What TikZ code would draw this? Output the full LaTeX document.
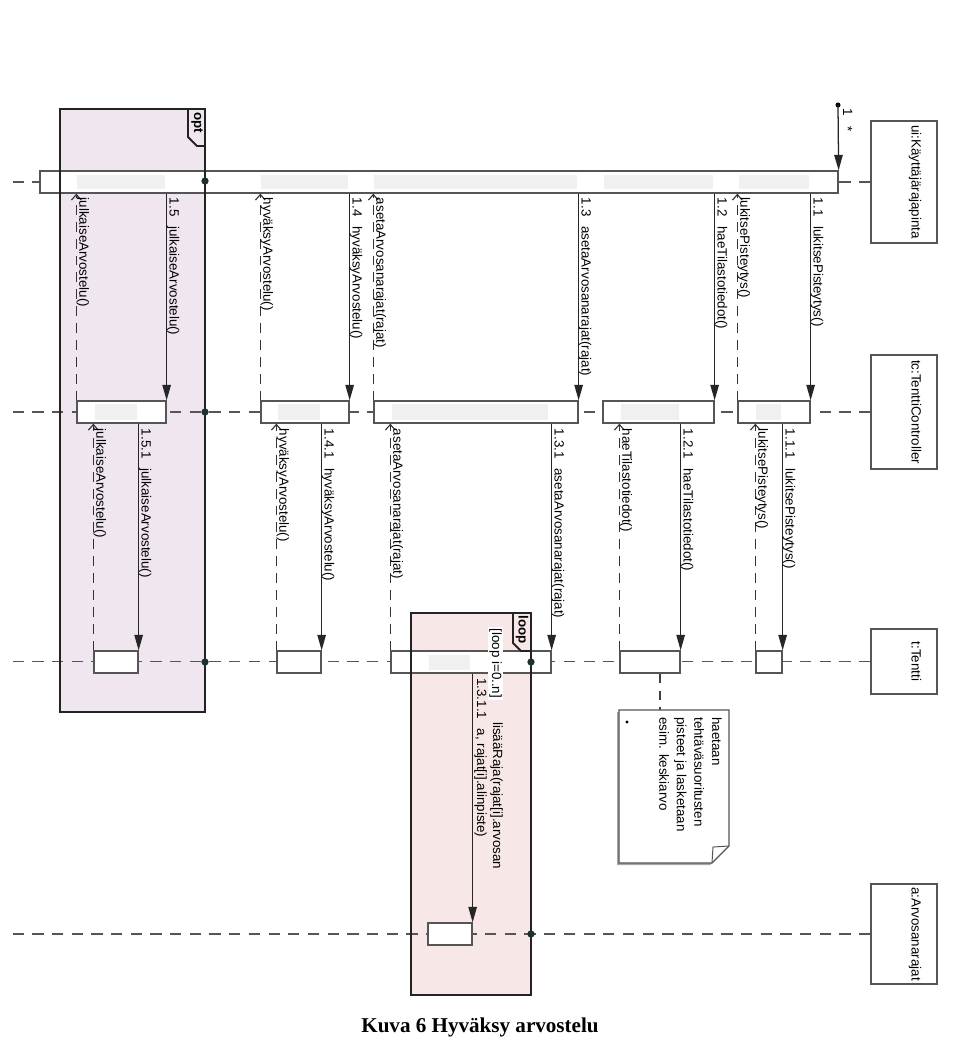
\documentclass[tikz,border=0pt]{standalone}
\usepackage{fontspec}
\setmainfont{Liberation Sans}
\newfontfamily\kuvafont{Liberation Serif}
\usetikzlibrary{fit,calc,arrows.meta}
\definecolor{optfill}{RGB}{239,230,239}
\definecolor{loopfill}{RGB}{248,231,231}
\definecolor{lineclr}{RGB}{85,85,85}
\definecolor{fragclr}{RGB}{35,35,35}
\definecolor{dotclr}{RGB}{30,48,48}
\newcommand{\msgsep}{\hspace{7pt}}
\tikzset{
  lifeline/.style={draw=lineclr, line width=0.9pt, dash pattern=on 8pt off 6pt},
  headbox/.style={draw=lineclr, line width=0.9pt, fill=white, inner sep=0pt},
  headtext/.style={rotate=-90, anchor=north, inner sep=0pt, font=\fontsize{9.5}{12}\selectfont},
  actbox/.style={draw=lineclr, line width=0.9pt, fill=white, inner sep=0pt},
  band/.style={fill=black!6, draw=none},
  call/.style={draw=black!85, line width=0.9pt, -{Triangle[length=11pt,width=6pt]}},
  reply/.style={draw=black!80, line width=0.8pt, dash pattern=on 7pt off 5pt, -{Straight Barb[length=4pt,width=7pt]}},
  msg/.style={rotate=-90, anchor=base west, inner sep=0pt, font=\fontsize{9.5}{12.5}\selectfont},
  fragbox/.style={draw=fragclr, line width=1.3pt},
  gate/.style={fill=dotclr, draw=none},
}
\begin{document}
\begin{tikzpicture}[x=0.025cm, y=-0.025cm]
\useasboundingbox (0,0) rectangle (960,1042);
% fragment backgrounds
\fill[optfill] (60,109) rectangle (205,712);
\fill[loopfill] (411,613) rectangle (531,995);
% lifeline heads
\node[headbox, fit={(871,121) (937,243)}] (ui) {};
\node[headbox, fit={(871,355) (937,469)}] (tc) {};
\node[headbox, fit={(871,629) (937,694)}] (t) {};
\node[headbox, fit={(871,884) (937,984)}] (a) {};
\node[headtext] (uiName) at ([xshift=-0.4cm]ui.east) {ui:Käyttäjärajapinta};
\node[headtext] (tcName) at ([xshift=-0.4cm]tc.east) {tc:TenttiController};
\node[headtext] (tName) at ([xshift=-0.4cm]t.east) {t:Tentti};
\node[headtext] (aName) at ([xshift=-0.4cm]a.east) {a:Arvosanarajat};
\foreach \h in {ui,tc,t,a}
  \draw[lifeline] (\h.west) -- ++(-861,0);
% activations
\node[actbox, fit={(40,171) (838,193)}] (uiAct) {};
\foreach \n/\l/\r in {A1/77/166, A2/261/349, A3/374/578, A4/603/714, A5/738/810}
  \node[actbox, fit={(\l,401) (\r,423)}] (tc\n) {};
\foreach \n/\l/\r in {A1/94/138, A2/277/321, A3/391/551, A4/620/680, A5/756/782}
  \node[actbox, fit={(\l,651) (\r,673)}] (t\n) {};
\node[actbox, fit={(428,923) (472,945)}] (aAct) {};
\foreach \l/\r in {77/165, 261/348, 374/577, 604/713, 739/809}
  \fill[band] (\l,175) rectangle (\r,189);
\foreach \l/\r in {95/137, 278/320, 392/548, 621/679, 756/781}
  \fill[band] (\l,404) rectangle (\r,420);
\fill[band] (429,655) rectangle (470,670);
% found message
\coordinate (start) at (838,105);
\fill (start) circle (1.8pt);
\draw[call] (start) -- (uiAct.north east);
\node[msg] (m1) at (843,108) {1\hspace{8pt}*};
% ui -> tc
\foreach \n/\num/\name in {A5/1.1/lukitsePisteytys(), A4/1.2/haeTilastotiedot(),
    A3/1.3/asetaArvosanarajat(rajat), A2/1.4/hyväksyArvostelu(), A1/1.5/julkaiseArvostelu()} {
  \draw[call] (tc\n.north east |- uiAct.south) -- (tc\n.north east);
  \node[msg] (call\n) at ($(tc\n.north east |- uiAct.south)+(3,4)$) {\num\msgsep\name};
}
\foreach \n/\name in {A5/lukitsePisteytys(), A3/asetaArvosanarajat(rajat),
    A2/hyväksyArvostelu(), A1/julkaiseArvostelu()} {
  \draw[reply] (tc\n.north west) -- (tc\n.north west |- uiAct.south);
  \node[msg] (ret\n) at ($(tc\n.north west |- uiAct.south)+(3,4)$) {\name};
}
% tc -> t
\foreach \n/\num/\name in {A5/1.1.1/lukitsePisteytys(), A4/1.2.1/haeTilastotiedot(),
    A3/1.3.1/asetaArvosanarajat(rajat), A2/1.4.1/hyväksyArvostelu(), A1/1.5.1/julkaiseArvostelu()} {
  \draw[call] (t\n.north east |- tc\n.south) -- (t\n.north east);
  \node[msg] (subcall\n) at ($(t\n.north east |- tc\n.south)+(3,5)$) {\num\msgsep\name};
  \draw[reply] (t\n.north west) -- (t\n.north west |- tc\n.south);
  \node[msg] (subret\n) at ($(t\n.north west |- tc\n.south)+(3,5)$) {\name};
}
% t -> a
\draw[call] (aAct.north east |- tA3.south) -- (aAct.north east);
\node[msg] (lisaa2) at (477,678) {1.3.1.1\msgsep a, rajat[i].alinpiste)};
\node[msg] (lisaa1) at (493,722) {lisääRaja(rajat[i].arvosan};
% note
\coordinate (noteTop) at (660,710);
\draw[dash pattern=on 7pt off 5pt, draw=black!75, line width=0.8pt] (tA4.south -| noteTop) -- (noteTop);
\fill[black!35, shift={(-2,2)}] (619,710) -- (729,710) -- (729,846) -- (712,863) -- (619,863) -- cycle;
\draw[fill=white, draw=lineclr, line width=0.9pt] (619,710) -- (729,710) -- (729,846) -- (712,863) -- (619,863) -- cycle;
\draw[draw=lineclr, line width=0.7pt] (729,846) -- (713,847) -- (712,863);
\fill (627,722) circle (1.2pt);
\node[msg, anchor=north west, align=left] (noteText) at (722,717)
  {haetaan\\tehtäväsuoritusten\\pisteet ja lasketaan\\esim. keskiarvo};
% fragment frames
\draw[fragbox] (60,109) rectangle (205,712);
\draw[fragbox] (188,109) -- (188,137) -- (197,146) -- (205,146);
\node[msg, anchor=center, font=\bfseries\fontsize{9.5}{12}\selectfont] (optTag) at (197,123) {opt};
\draw[fragbox] (411,613) rectangle (531,995);
\draw[fragbox] (513,613) -- (513,643) -- (521,651) -- (531,651);
\node[msg, anchor=center, font=\bfseries\fontsize{9.5}{12}\selectfont] (loopTag) at (522,630) {loop};
\node[msg, fill=white, inner sep=1pt] (guard) at (492,627) {[loop i=0..n]};
\foreach \p in {(205,181), (205,412), (205,662), (531,662), (531,934)}
  \fill[gate] \p circle (2.6pt);
% caption
\node[font=\kuvafont\bfseries\fontsize{15}{17}\selectfont] (caption) at (480,1027) {Kuva 6 Hyväksy arvostelu};
\end{tikzpicture}
\end{document}
